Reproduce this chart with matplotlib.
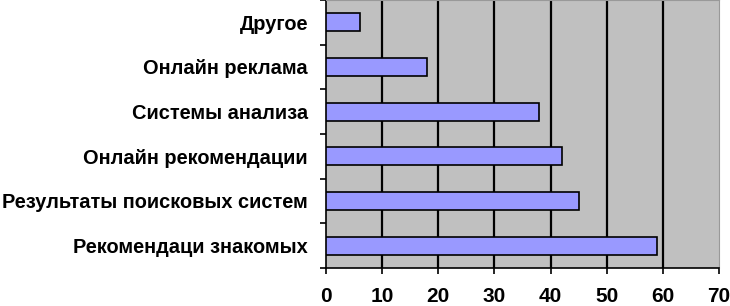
import matplotlib
matplotlib.use("Agg")
import matplotlib.pyplot as plt
import numpy as np

categories = ["Рекомендаци знакомых", "Результаты поисковых систем", "Онлайн рекомендации",
              "Системы анализа", "Онлайн реклама", "Другое"]
values = [59, 45, 42, 38, 18, 6]
xticks = [0, 10, 20, 30, 40, 50, 60, 70]

plt.rcParams['font.family'] = ['Liberation Sans', 'DejaVu Sans']
plt.rcParams['font.weight'] = 'bold'

W, H = 730, 306
fig = plt.figure(figsize=(W/100, H/100), dpi=100)
ax = fig.add_axes([326/W, (H-268)/H, (719-326)/W, 268/H])
ax.set_facecolor('#c0c0c0')

y = np.arange(len(categories))
ax.barh(y, values, height=0.4, color='#9999ff', edgecolor='black', linewidth=1.2, zorder=3)

ax.set_xlim(0, 70)
ax.set_ylim(-0.5, len(categories) - 0.5)
ax.set_xticks(xticks)
ax.set_xticklabels([str(t) for t in xticks], fontsize=15, fontweight='bold')
ax.set_yticks(y)
ax.set_yticklabels(categories, fontsize=14.4, fontweight='bold')
ax.set_yticks(np.arange(-0.5, len(categories)), minor=True)
ax.tick_params(axis='y', which='major', length=0, pad=13)
ax.tick_params(axis='y', which='minor', length=4, width=1.2, direction='out')
ax.tick_params(axis='x', which='major', length=4, width=1.2, direction='out', pad=10)

for t in xticks[1:-1]:
    ax.axvline(t, color='black', linewidth=1.6, zorder=1)

ax.spines['left'].set_color('black')
ax.spines['bottom'].set_color('black')
ax.spines['left'].set_linewidth(1.2)
ax.spines['bottom'].set_linewidth(1.2)
ax.spines['top'].set_color('#999999')
ax.spines['right'].set_color('#999999')

fig.savefig('out.png', dpi=100)
